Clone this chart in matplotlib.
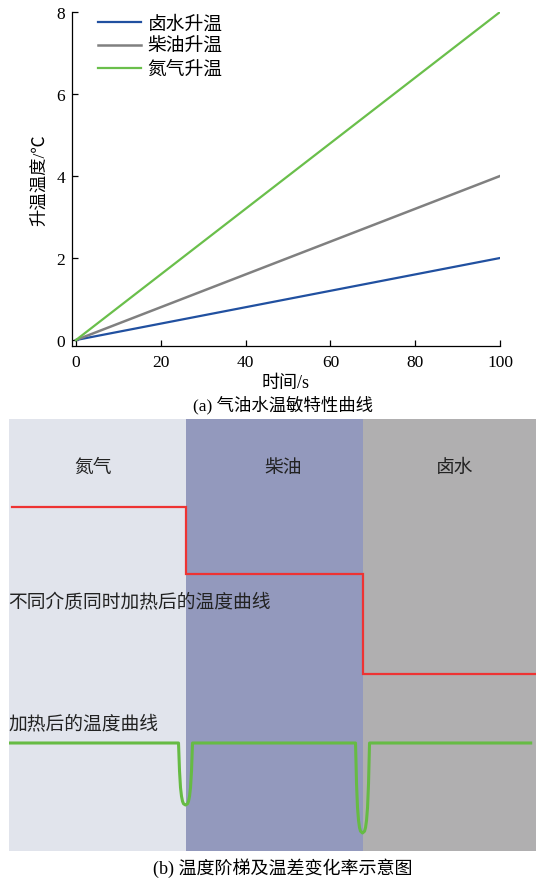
import numpy as np
import matplotlib
matplotlib.use('Agg')
import matplotlib.pyplot as plt

plt.rcParams['font.family'] = ['Liberation Serif', 'Noto Sans CJK SC']
plt.rcParams['axes.unicode_minus'] = False

# (a) temperature rise of the three media
time_s = [0, 100]
brine_rise = [0, 2]
diesel_rise = [0, 4]
nitrogen_rise = [0, 8]
x_ticks = [0, 20, 40, 60, 80, 100]
y_ticks = [0, 2, 4, 6, 8]

# (b) schematic: media in order, step temperatures, dip depths
media = ['氮气', '柴油', '卤水']
media_colors = ['#E1E4EC', '#9399BD', '#B0AFB0']
media_label_x = [0.48, 1.55, 2.52]
step_levels = [3.44, 2.77, 1.77]
red_start, panel_end, green_end = 0.02, 2.98, 2.95
green_base = 1.08
dip_depths = [0.62, 0.90]
# dip profile (offset in px, fraction of depth)
dip_px = [-7, -6, -5, -4, -3, -2, 0, 2, 3, 4, 5, 6, 7]
dip_frac = [0, 0.45, 0.72, 0.86, 0.94, 0.98, 1, 0.98, 0.94, 0.86, 0.72, 0.45, 0]

W, H = 536, 879
fig = plt.figure(figsize=(W / 100, H / 100), dpi=100)

# ---------- top chart ----------
ax = fig.add_axes([72 / W, 1 - 347 / H, (500 - 72) / W, (347 - 13) / H])
ax.plot(time_s, brine_rise, color='#2150A0', lw=1.6, label='卤水升温')
ax.plot(time_s, diesel_rise, color='#808080', lw=1.8, label='柴油升温')
ax.plot(time_s, nitrogen_rise, color='#6ABF4B', lw=1.6, label='氮气升温')
ax.set_xlim(-0.94, 100)
ax.set_ylim(-0.146, 8)
ax.set_xticks(x_ticks)
ax.set_yticks(y_ticks)
ax.tick_params(direction='in', length=4, width=0.9, labelsize=12.5)
ax.tick_params(axis='x', pad=6)
ax.tick_params(axis='y', pad=5)
for s in ['top', 'right']:
    ax.spines[s].set_visible(False)
for s in ['left', 'bottom']:
    ax.spines[s].set_linewidth(0.9)
ax.set_xlabel('时间/s', fontsize=13, labelpad=3)
ax.set_ylabel('升温温度/℃', fontsize=12.5, labelpad=6)
ax.legend(loc='upper left', bbox_to_anchor=(98 / W, 1 - 16 / H),
          bbox_transform=fig.transFigure, frameon=False, fontsize=13.5,
          handlelength=2.3, handletextpad=0.35, labelspacing=0.3,
          borderpad=0, borderaxespad=0)

fig.text(283 / W, 1 - 405 / H, '(a) 气油水温敏特性曲线', ha='center', va='center', fontsize=12.5)

# ---------- bottom schematic ----------
bx = fig.add_axes([8.5 / W, 1 - 852 / H, (536 - 8.5) / W, (852 - 419.5) / H])
bx.set_xlim(0, panel_end)
bx.set_ylim(0, 4.325)
bx.axis('off')

edges = [0, 1, 2, panel_end]
for i, name in enumerate(media):
    bx.axvspan(edges[i], edges[i + 1], color=media_colors[i], lw=0)
    bx.text(media_label_x[i], 3.84, name, ha='center', va='center', fontsize=13.5, color='#222222')

# red step curve
rx = [red_start, 1, 1, 2, 2, panel_end]
ry = [step_levels[0], step_levels[0], step_levels[1], step_levels[1], step_levels[2], step_levels[2]]
bx.plot(rx, ry, color='#EE3333', lw=1.6, solid_joinstyle='miter')

# green curve with dips at the boundaries
gx, gy = [0], [green_base]
for b, d in zip([1, 2], dip_depths):
    for p, f in zip(dip_px, dip_frac):
        gx.append(b + p / 177)
        gy.append(green_base - d * f)
gx.append(green_end)
gy.append(green_base)
bx.plot(gx, gy, color='#66BB44', lw=2.2)

bx.text(0, 2.49, '不同介质同时加热后的温度曲线', ha='left', va='center', fontsize=13.5, color='#222222')
bx.text(0, 1.28, '加热后的温度曲线', ha='left', va='center', fontsize=13.5, color='#222222')

fig.text(283 / W, 1 - 868 / H, '(b) 温度阶梯及温差变化率示意图', ha='center', va='center', fontsize=13)

fig.savefig('out.png', dpi=100)
